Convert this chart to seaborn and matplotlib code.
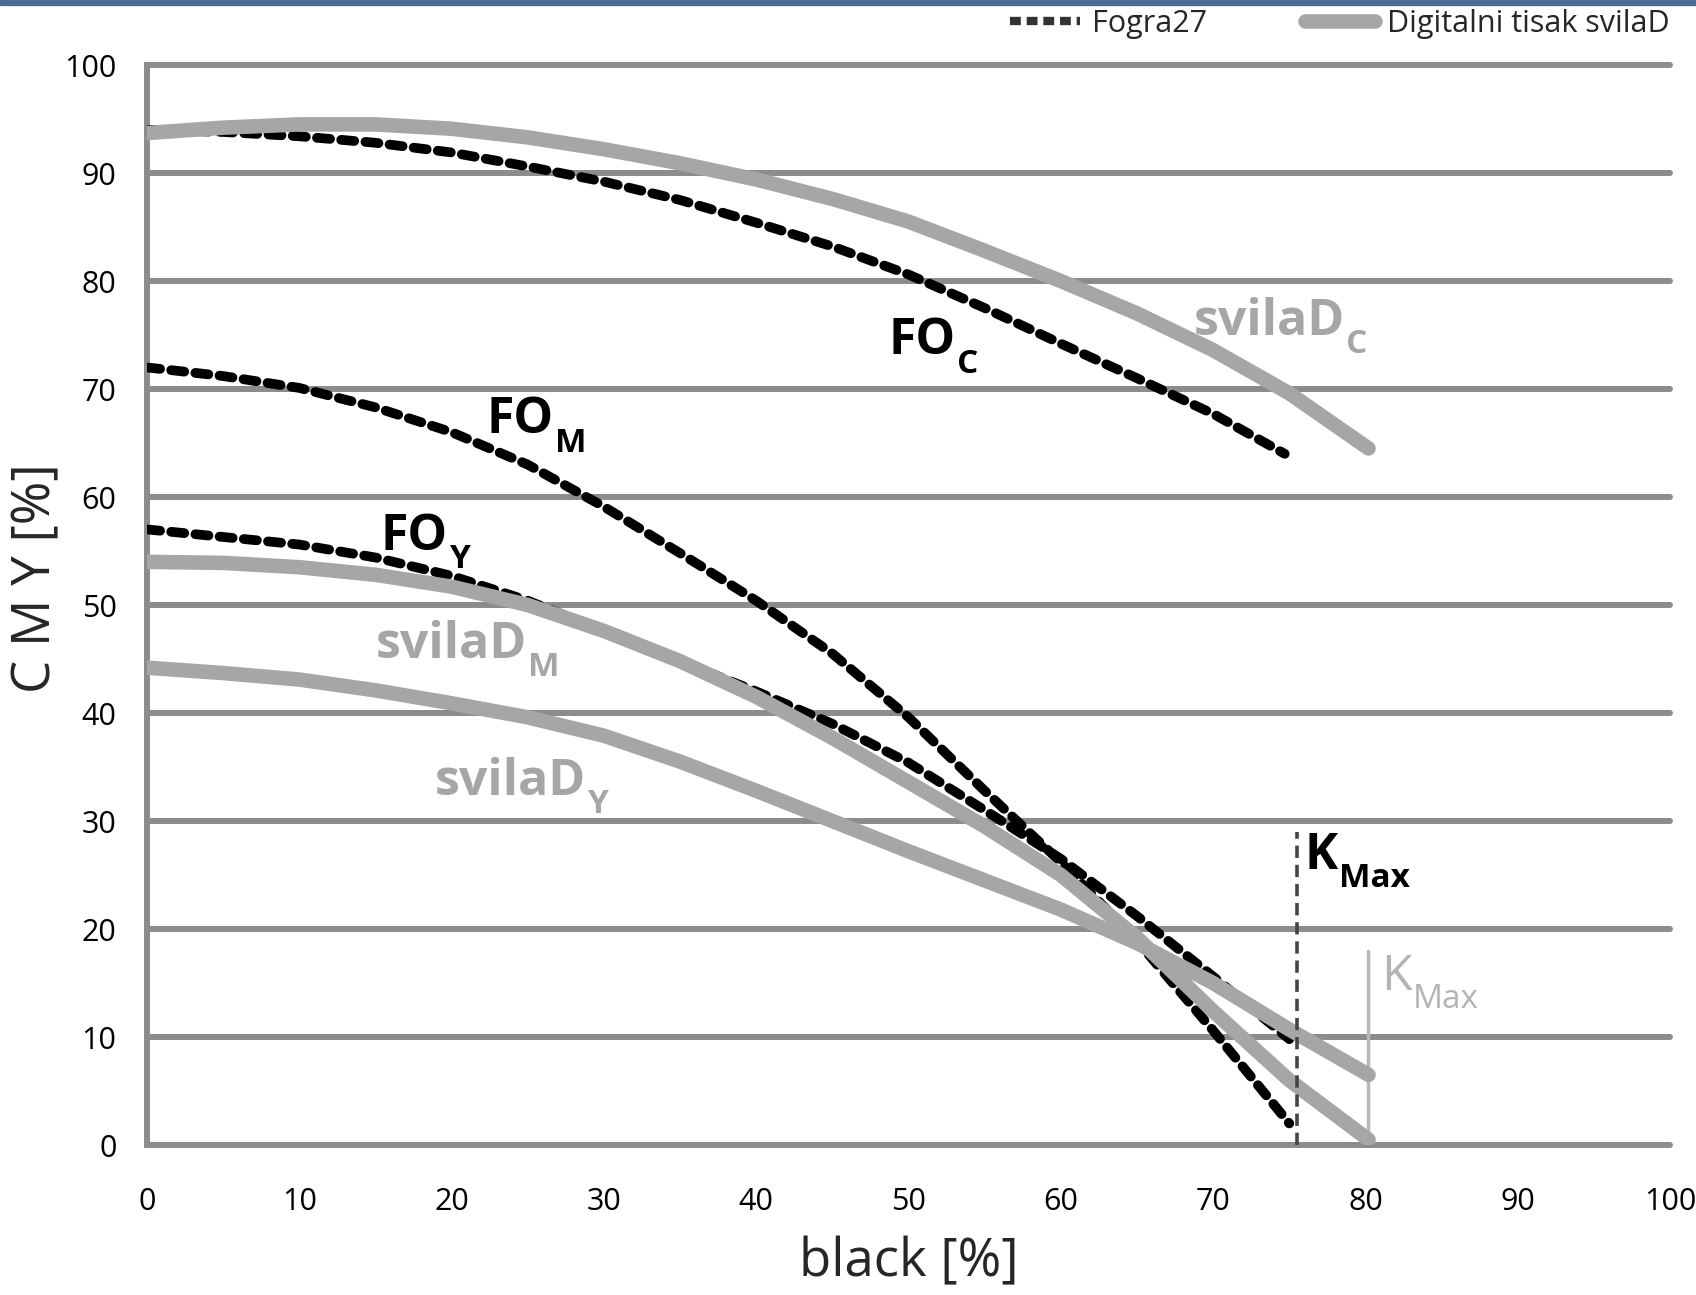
import pandas as pd
import matplotlib
matplotlib.use('Agg')
import matplotlib.pyplot as plt
import seaborn as sns
from matplotlib.lines import Line2D
from matplotlib.patches import Rectangle

# values: black [%] -> C / M / Y [%]
k_fogra = [0, 5, 10, 15, 20, 25, 30, 35, 40, 45, 50, 55, 60, 65, 70, 74.7]
fo_c = [94.0, 93.8, 93.4, 92.8, 91.9, 90.6, 89.2, 87.5, 85.4, 83.2, 80.6,
        77.5, 74.2, 71.0, 67.7, 64.0]
k_fogra_my = [0, 5, 10, 15, 20, 25, 30, 35, 40, 45, 50, 55, 60, 65, 70, 75]
fo_m = [72.0, 71.2, 70.1, 68.3, 66.0, 63.0, 59.1, 54.8, 50.4, 45.5, 39.6,
        32.8, 26.2, 18.9, 10.6, 2.0]
fo_y = [57.0, 56.3, 55.6, 54.4, 52.7, 50.4, 47.6, 44.8, 42.0, 39.0, 35.4,
        31.0, 26.5, 21.2, 15.6, 9.8]

k_svila = [0, 5, 10, 15, 20, 25, 30, 35, 40, 45, 50, 55, 60, 65, 70, 75, 80.2]
sv_c = [93.7, 94.2, 94.5, 94.5, 94.1, 93.3, 92.2, 90.9, 89.4, 87.6, 85.5,
        82.8, 80.0, 77.0, 73.6, 69.6, 64.5]
sv_m = [54.0, 53.9, 53.5, 52.8, 51.7, 50.0, 47.6, 44.8, 41.5, 37.7, 33.6,
        29.5, 25.0, 19.2, 12.4, 6.0, 0.5]
sv_y = [44.2, 43.7, 43.1, 42.1, 40.9, 39.6, 37.9, 35.5, 32.8, 30.0, 27.2,
        24.5, 21.8, 18.7, 15.0, 10.7, 6.5]

kmax_fogra = 75.5
kmax_fogra_top = 29
kmax_svila = 80.2
kmax_svila_top = 18

legend_labels = ['Fogra27', 'Digitalni tisak svilaD']

sns.set_style('white')
plt.rcParams['font.family'] = ['Open Sans', 'DejaVu Sans']

GRID = '#8c8c8c'
LIGHT = '#a6a6a6'

fig = plt.figure(figsize=(16.96, 12.95), dpi=100)
ax = fig.add_axes([0.0867, 0.1158, 0.898, 0.834])

# black dashed Fogra27 curves (drawn under the gray ones)
for kx, ys in [(k_fogra, fo_c), (k_fogra_my, fo_m), (k_fogra_my, fo_y)]:
    df = pd.DataFrame({'k': kx, 'v': ys})
    sns.lineplot(data=df, x='k', y='v', ax=ax, color='black')
    ln = ax.lines[-1]
    ln.set_linewidth(7)
    ln.set_linestyle((0, (1.35, 1.15)))
    ln.set_dash_capstyle('round')
    ln.set_dash_joinstyle('round')
    ln.set_zorder(3)

# gray svilaD curves
for ys in [sv_c, sv_m, sv_y]:
    df = pd.DataFrame({'k': k_svila, 'v': ys})
    sns.lineplot(data=df, x='k', y='v', ax=ax, color=LIGHT)
    ln = ax.lines[-1]
    ln.set_linewidth(10.5)
    ln.set_solid_capstyle('round')
    ln.set_solid_joinstyle('round')
    ln.set_zorder(4)

# K max markers
ax.plot([kmax_svila, kmax_svila], [0, kmax_svila_top], color='#b8b8b8',
        lw=2.5, zorder=3.5)
ax.plot([kmax_fogra, kmax_fogra], [0, kmax_fogra_top], color='#444444',
        lw=2.6, ls=(0, (3.4, 1.9)), zorder=5)

ax.set_xlim(0, 100)
ax.set_ylim(0, 100)
ax.set_xticks(range(0, 101, 10))
ax.set_yticks(range(0, 101, 10))
ax.grid(axis='y', color=GRID, lw=4.3, solid_capstyle='round')
ax.grid(axis='x', visible=False)
for gl in ax.get_ygridlines():
    gl.set_clip_on(False)
    gl.set_zorder(1)
ax.set_axisbelow(True)

for s in ['top', 'right', 'bottom']:
    ax.spines[s].set_visible(False)
ax.spines['left'].set_color(GRID)
ax.spines['left'].set_linewidth(4.3)
ax.tick_params(axis='both', direction='out', color=GRID, width=4.3,
               labelsize=22, labelcolor='black')
ax.tick_params(axis='y', length=8, pad=14)
ax.tick_params(axis='x', length=6, pad=24)
ax.set_xlabel('black [%]', fontsize=38, labelpad=14)
ax.set_ylabel('C M Y [%]', fontsize=38)
ax.yaxis.set_label_coords(-0.055, 0.525)


def curve_label(x, y, main, sub, color, weight='bold'):
    t = ax.text(x, y, main, color=color, fontsize=36, fontweight=weight,
                ha='left', va='baseline', zorder=6)
    ax.annotate(sub, xy=(1, 0), xycoords=t, xytext=(1.0, -4.5),
                textcoords='offset points', color=color, fontsize=24,
                fontweight=weight, ha='left', va='baseline', zorder=6)


curve_label(48.7, 73.2, 'FO', 'C', 'black')
curve_label(68.7, 75.0, 'svilaD', 'C', LIGHT)
curve_label(22.3, 65.9, 'FO', 'M', 'black')
curve_label(15.3, 55.1, 'FO', 'Y', 'black')
curve_label(15.0, 45.1, 'svilaD', 'M', LIGHT)
curve_label(18.9, 32.4, 'svilaD', 'Y', LIGHT)
curve_label(76.0, 25.6, 'K', 'Max', 'black')
curve_label(81.0, 14.4, 'K', 'Max', '#b4b4b4', weight='normal')

handles = [Line2D([], [], color='#333333', lw=6, ls=(0, (1.3, 0.7))),
           Line2D([], [], color=LIGHT, lw=10.5, solid_capstyle='round')]
ax.legend(handles, legend_labels, loc='center right',
          bbox_to_anchor=(1.0, 1.038), ncol=2, frameon=False, fontsize=22,
          handlelength=2.3, handletextpad=0.4, columnspacing=3.2,
          borderaxespad=0, borderpad=0)

# thin blue strip along the top edge
fig.add_artist(Rectangle((0, 1 - 5 / 1295), 1, 5 / 1295,
                         transform=fig.transFigure, color='#4a6b93'))

fig.savefig('out.png', dpi=100)
plt.close()
print("Saved out.png")
